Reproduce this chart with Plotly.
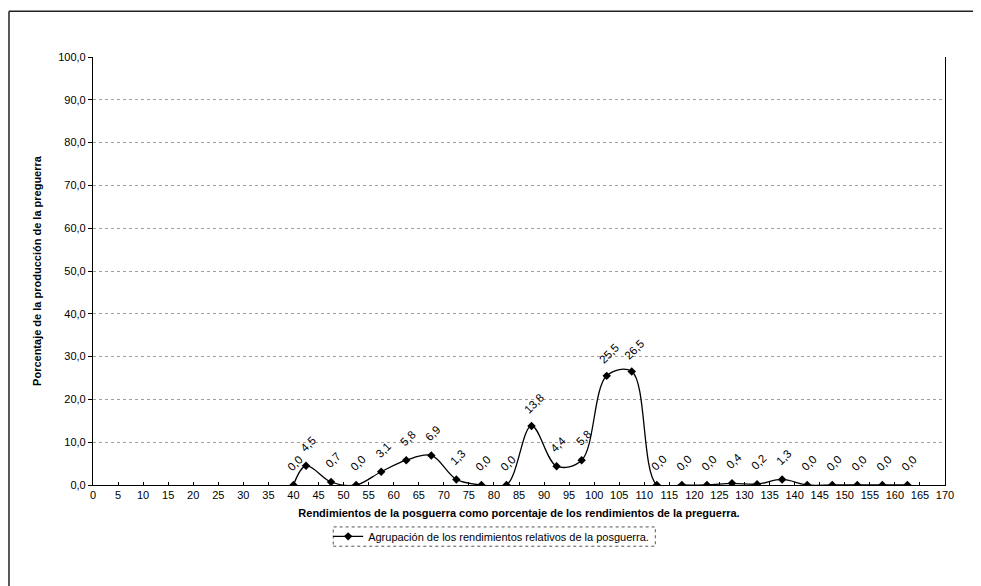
import plotly.graph_objects as go

# Data
x_vals = [40, 42.5, 47.5, 52.5, 57.5, 62.5, 67.5, 72.5, 77.5, 82.5, 87.5, 92.5, 97.5,
          102.5, 107.5, 112.5, 117.5, 122.5, 127.5, 132.5, 137.5, 142.5, 147.5, 152.5,
          157.5, 162.5]
y_vals = [0.0, 4.5, 0.7, 0.0, 3.1, 5.8, 6.9, 1.3, 0.0, 0.0, 13.8, 4.4, 5.8,
          25.5, 26.5, 0.0, 0.0, 0.0, 0.4, 0.2, 1.3, 0.0, 0.0, 0.0,
          0.0, 0.0]
x_ticks = list(range(0, 171, 5))
y_ticks = [0, 10, 20, 30, 40, 50, 60, 70, 80, 90, 100]

series_name = "Agrupación de los rendimientos relativos de la posguerra."
x_title = "Rendimientos de la posguerra como porcentaje de los rendimientos de la preguerra."
y_title = "Porcentaje de la producción de la preguerra"

FONT = "Liberation Sans, Arial, sans-serif"

fig = go.Figure()
fig.add_trace(go.Scatter(
    x=x_vals, y=y_vals, mode="lines+markers", name=series_name,
    line=dict(color="black", width=1.3, shape="spline", smoothing=1.0),
    marker=dict(symbol="diamond", size=6.5, color="black"),
))

annotations = []
for xv, yv in zip(x_vals, y_vals):
    annotations.append(dict(
        x=xv, y=yv, xref="x", yref="y",
        text=f"{yv:.1f}".replace(".", ","),
        showarrow=False, textangle=-45, yshift=22, xshift=2,
        font=dict(family=FONT, size=11.5, color="black"),
    ))

shapes = [
    # dotted legend box
    dict(type="rect", xref="paper", yref="paper", x0=0.282, x1=0.66, y0=-0.143, y1=-0.098,
         line=dict(color="#555", width=1, dash="dot")),
    # outer frame (top and left visible)
    dict(type="line", xref="paper", yref="paper", x0=-0.0986, x1=1.06, y0=1.107, y1=1.107,
         line=dict(color="#222", width=1.5)),
    dict(type="line", xref="paper", yref="paper", x0=-0.0986, x1=-0.0986, y0=1.107, y1=-0.25,
         line=dict(color="#222", width=1.5)),
]

fig.update_layout(
    width=981, height=586,
    margin=dict(l=85, r=44, t=49, b=109),
    paper_bgcolor="white", plot_bgcolor="white",
    separators=",.",
    font=dict(family=FONT, size=11, color="black"),
    showlegend=True,
    legend=dict(orientation="h", x=0.276, y=-0.12, xanchor="left", yanchor="middle",
                font=dict(family=FONT, size=11, color="black"),
                bgcolor="rgba(0,0,0,0)", itemwidth=30),
    annotations=annotations,
    shapes=shapes,
)

fig.update_xaxes(
    range=[0, 170], tickmode="array", tickvals=x_ticks, ticktext=[str(t) for t in x_ticks],
    showline=True, linecolor="black", linewidth=1.2, mirror=False,
    ticks="inside", ticklen=3, tickcolor="black",
    showgrid=False, zeroline=False,
    tickfont=dict(family=FONT, size=11, color="black"),
    title=dict(text=f"<b>{x_title}</b>", font=dict(family=FONT, size=11, color="black"), standoff=9),
)
fig.update_yaxes(
    range=[0, 100], tickmode="array", tickvals=y_ticks, tickformat=".1f",
    showline=True, linecolor="black", linewidth=1.2, mirror=True,
    ticks="outside", ticklen=4, tickcolor="black",
    showgrid=True, gridcolor="#a0a0a0", gridwidth=0.8, griddash="dot",
    zeroline=False,
    tickfont=dict(family=FONT, size=11, color="black"),
    title=dict(text=f"<b>{y_title}</b>", font=dict(family=FONT, size=11, color="black"), standoff=14),
)

fig.write_html("out.html")
